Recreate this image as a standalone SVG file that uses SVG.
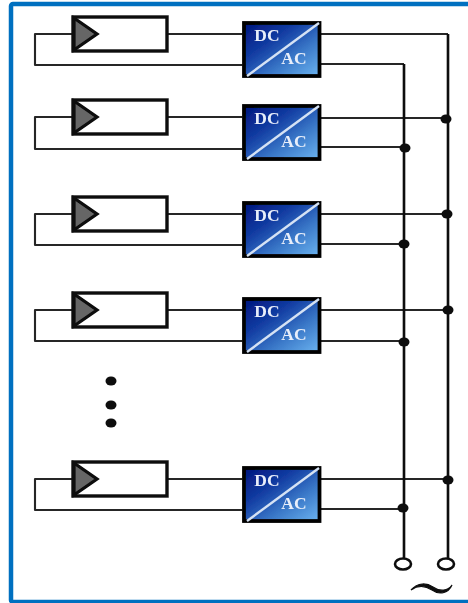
<svg xmlns="http://www.w3.org/2000/svg" width="468" height="603" viewBox="0 0 468 603">
<style>
.w{fill:none;stroke:#262626;stroke-width:2.1;stroke-linejoin:round}
.bus{fill:none;stroke:#111;stroke-width:2.6}
.pv{fill:#fff;stroke:#0a0a0a;stroke-width:3.4}
.tri{fill:#666;stroke:#0a0a0a;stroke-width:3.2;stroke-linejoin:miter}
.inv{fill:url(#g);stroke:#050505;stroke-width:3.8}
.diag{stroke:#d5e2f4;stroke-width:2.4}
.t{font-family:"Liberation Serif",serif;font-weight:bold;font-size:17.5px;fill:#e8eefa;text-anchor:middle}
.dot{fill:#0a0a0a}
</style>
<defs>
<linearGradient id="g" x1="0" y1="0" x2="1" y2="1">
<stop offset="0" stop-color="#00147c"/><stop offset="0.35" stop-color="#123ca2"/><stop offset="0.65" stop-color="#3a78c8"/><stop offset="1" stop-color="#6cb4f0"/>
</linearGradient>
<filter id="soft" filterUnits="userSpaceOnUse" x="0" y="0" width="468" height="603"><feGaussianBlur stdDeviation="0.45"/></filter>
<g id="panel"><rect class="pv" x="73" y="0" width="94" height="34"/><path class="tri" d="M74 1L97 17L74 33Z"/></g>
<g id="invb"><rect class="inv" x="244" y="0" width="75.500" height="53"/><line class="diag" x1="247" y1="53" x2="319" y2="0"/><text class="t" x="267" y="18">DC</text><text class="t" x="294" y="41">AC</text></g>
</defs>
<rect x="11" y="4" width="470" height="598" rx="2" fill="#fff" stroke="#0070c0" stroke-width="4.5"/>
<g filter="url(#soft)">
<g id="connectors">
<path class="w" d="M72 34H35V65H243M167 34H243M320 34H448M320 64H404"/>
<path class="w" d="M72 117H35V149H243M167 117H243M320 118H448M320 147H404"/>
<path class="w" d="M72 214H35V245H243M167 214H243M320 214H448M320 244H404"/>
<path class="w" d="M72 310H35V341H243M167 310H243M320 310H448M320 341H404"/>
<path class="w" d="M72 479H35V510H243M167 479H243M320 479H448M320 509H404"/>
<path class="bus" d="M404 64V558M448 34V558"/>
<ellipse class="dot" cx="446" cy="119" rx="5.500" ry="4.500"/><ellipse class="dot" cx="405" cy="148" rx="5.500" ry="4.500"/>
<ellipse class="dot" cx="447" cy="214" rx="5.500" ry="4.500"/><ellipse class="dot" cx="404" cy="244" rx="5.500" ry="4.500"/>
<ellipse class="dot" cx="448" cy="310" rx="5.500" ry="4.500"/><ellipse class="dot" cx="404" cy="342" rx="5.500" ry="4.500"/>
<ellipse class="dot" cx="448" cy="480" rx="5.500" ry="4.500"/><ellipse class="dot" cx="403" cy="508" rx="5.500" ry="4.500"/>
</g>
<g id="pv1"><use href="#panel" y="17"/></g>
<g id="pv2"><use href="#panel" y="100"/></g>
<g id="pv3"><use href="#panel" y="197"/></g>
<g id="pv4"><use href="#panel" y="293"/></g>
<g id="pv5"><use href="#panel" y="462"/></g>
<g id="inv1"><use href="#invb" y="23"/></g>
<g id="inv2"><use href="#invb" y="106"/></g>
<g id="inv3"><use href="#invb" y="203"/></g>
<g id="inv4"><use href="#invb" y="299"/></g>
<g id="inv5"><use href="#invb" y="468"/></g>
<g id="ellipsis"><ellipse class="dot" cx="111" cy="381" rx="5.500" ry="4.500"/><ellipse class="dot" cx="111" cy="405" rx="5.500" ry="4.500"/><ellipse class="dot" cx="111" cy="423" rx="5.500" ry="4.500"/></g>
<g id="terminals"><ellipse cx="403" cy="564" rx="8" ry="5.500" fill="#fff" stroke="#111" stroke-width="2.600"/><ellipse cx="446" cy="564" rx="8" ry="5.500" fill="#fff" stroke="#111" stroke-width="2.600"/>
<path d="M411 590C418 582 427 583 433 587C440 592 448 591 452 585C448 594 439 595 432 590C426 586 418 585 411 590Z" fill="#111" stroke="#111" stroke-width="1.200"/></g>
</g>
</svg>
